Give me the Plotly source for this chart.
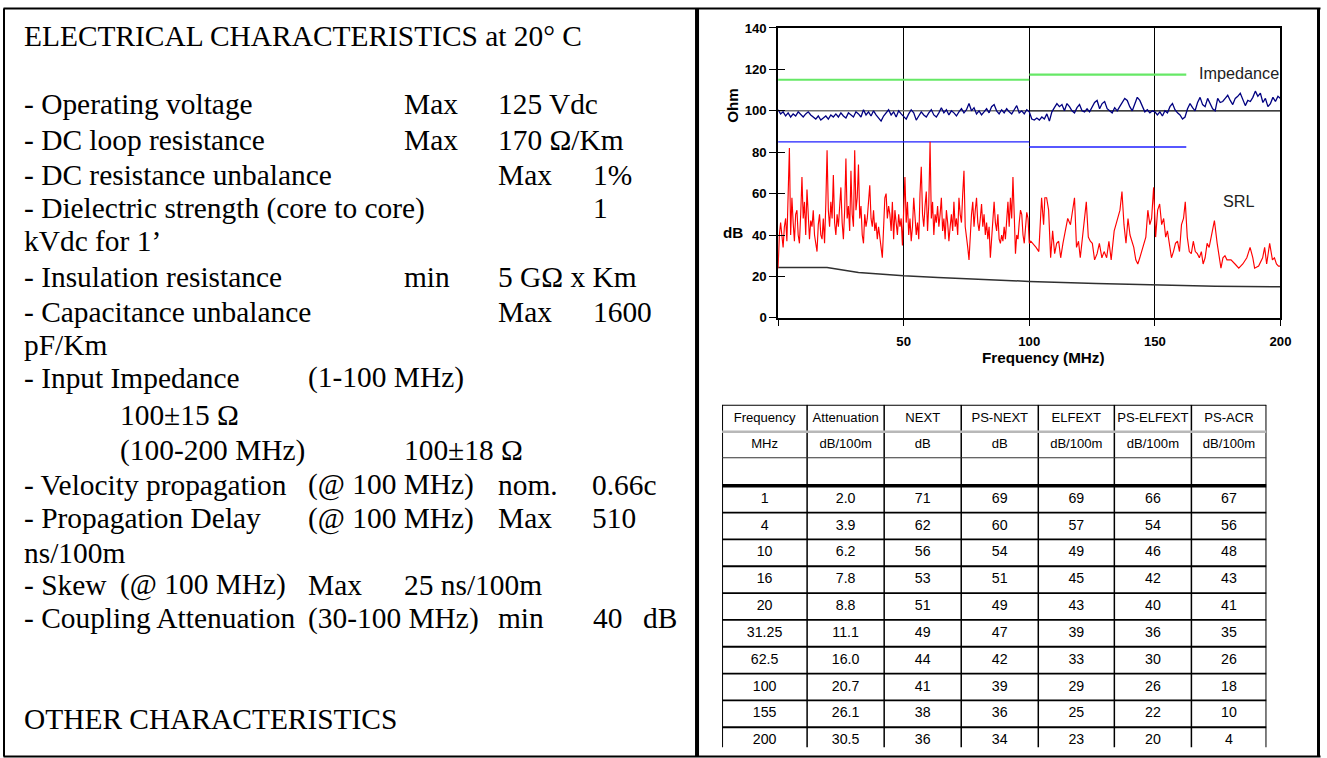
import numpy as np
import plotly.graph_objects as go

# The photographed page comes out slightly scaled/offset; these constants
# map reference-pixel positions onto the figure canvas.
SX, AX = 0.991, 0.5
SY, AY = 0.981, 6.0
W_FIG, H_FIG = 1334, 768
FS = 1 / 0.986  # font compensation

# ---------------- chart data ----------------
# SRL sweep, 0-100 MHz at 0.5 MHz steps
srl_f_low = np.arange(0, 100.5, 0.5)
srl_db_low = [
    24, 40, 46, 38, 34, 44, 48, 37, 60, 82,
    40, 58, 46, 37, 50, 52, 40, 36, 50, 68,
    48, 56, 40, 62, 50, 38, 47, 44, 52, 40,
    36, 32, 45, 50, 40, 38, 48, 36, 55, 81,
    52, 44, 56, 48, 69, 46, 40, 50, 44, 56,
    63, 46, 38, 52, 77, 48, 54, 42, 71, 50,
    44, 81, 52, 58, 74, 48, 54, 40, 36, 50,
    44, 48, 56, 64, 48, 44, 52, 42, 46, 38,
    44, 40, 34, 29, 44, 58, 60, 48, 54, 50,
    42, 56, 38, 52, 46, 40, 50, 44, 48, 35,
    52, 68, 46, 56, 40, 48, 37, 44, 58, 50,
    40, 46, 38, 60, 73, 50, 44, 54, 61, 42,
    55, 85, 48, 56, 40, 50, 46, 54, 44, 50,
    58, 42, 48, 38, 52, 46, 37, 44, 50, 42,
    56, 44, 48, 40, 58, 50, 46, 60, 71, 44,
    40, 34, 28, 40, 50, 56, 44, 52, 58, 46,
    42, 48, 55, 44, 50, 40, 46, 38, 44, 29,
    38, 52, 56, 46, 42, 50, 38, 36, 40, 37,
    44, 38, 50, 56, 44, 58, 48, 68, 50, 31,
    40, 38, 46, 52, 50, 40, 36, 46, 51, 48,
    36,
]
# SRL sweep, 100-200 MHz
srl_f_high = [
    100.6, 101.4, 102.7, 103.8, 104.9, 105.7, 106.2, 106.9, 107.7, 108.5, 109.3, 110.1,
    110.9, 111.7, 112.5, 113.4, 114.4, 115.3, 116.4, 117.2, 118.0, 118.8, 119.6, 120.3,
    121.1, 121.9, 122.7, 123.5, 124.3, 125.1, 126.0, 127.0, 127.9, 128.9, 129.8, 130.8,
    131.7, 132.6, 133.8, 134.5, 135.3, 136.1, 136.9, 137.7, 138.5, 139.3, 140.1, 140.9,
    141.6, 142.4, 143.2, 144.0, 144.8, 145.6, 146.4, 147.2, 148.0, 148.7, 149.5, 150.3,
    151.1, 151.9, 152.7, 153.5, 154.3, 155.0, 155.8, 156.6, 157.4, 158.2, 159.0, 159.8, 160.6,
    161.4, 162.1, 162.9, 163.7, 164.5, 165.3, 166.1, 166.9, 167.7, 168.5, 169.2, 170.0, 170.8,
    171.6, 172.4, 173.7, 174.8, 175.6, 176.3, 177.1, 177.9, 178.7, 180.3,
    181.9, 183.4, 185.0, 186.6, 187.9, 189.0, 189.7, 191.3, 192.9, 193.7, 194.5, 195.7,
    196.8, 197.6, 198.4, 199.2, 200.0,
]
srl_db_high = [
    37, 36, 34, 32, 58, 45, 58, 58, 52, 29, 42, 31,
    36, 37, 29, 36, 42, 48, 45, 53, 58, 34, 37, 29,
    37, 48, 56, 39, 37, 36, 28, 31, 36, 29, 32, 29,
    37, 28, 42, 45, 48, 52, 61, 45, 36, 48, 40, 36,
    34, 28, 26, 29, 32, 36, 39, 52, 45, 48, 63, 39,
    52, 55, 45, 48, 39, 42, 36, 29, 32, 36, 37, 32, 45,
    48, 56, 39, 32, 31, 37, 32, 31, 29, 32, 26, 29, 36,
    34, 39, 47, 36, 28, 24, 29, 30, 28, 28,
    26, 24, 26, 29, 34, 29, 24, 25, 29, 34, 26, 36,
    28, 29, 26, 25, 25,
]
srl_f = list(srl_f_low) + srl_f_high
srl_db = srl_db_low + srl_db_high

# Measured impedance, 1 MHz steps
imp_f = np.arange(0, 201, 1)
imp_ohm = [
    100.5, 98.5, 99.5, 97.5, 99, 97, 98.5, 97.5, 99.5, 98,
    97, 98.5, 99.5, 98, 97, 96, 97.5, 95.5, 96.5, 97.5,
    96, 98, 97, 98.5, 97, 99, 97.5, 96.5, 99, 98,
    97, 99.5, 98.5, 97, 100.5, 98, 99.5, 97.5, 100, 98,
    96.5, 95, 97.5, 99, 100.5, 98, 99.5, 97, 100, 98.5,
    97, 96, 98.5, 100.5, 99, 95.5, 97.5, 99.5, 98, 97,
    99, 100.5, 98, 97, 99, 101.5, 99, 100.5, 98, 100,
    99, 97.5, 99.5, 101, 99, 100.5, 103.5, 100, 101.5, 98.5,
    100, 98, 99.5, 101, 99, 102, 103, 100, 98.5, 100.5,
    99, 101, 99.5, 98.5, 100.5, 102.5, 99, 100, 98.5, 100.5,
    99.5, 96, 95.5, 96.5, 95.5, 97, 96, 98.5, 95, 99.5,
    101.5, 103.5, 102, 103, 100, 103.5, 102, 100, 99, 101.5,
    103, 100, 99.5, 101, 99.5, 102, 104, 105, 101, 103.5,
    104.5, 101, 100, 99, 101.5, 100, 102, 104, 106, 105,
    102, 100, 103, 106.5, 105, 102, 99.5, 100.5, 99, 100,
    99.5, 98, 99.5, 97.5, 100, 99, 102, 103.5, 100.5, 99,
    98, 96, 97, 101, 103.5, 101.5, 100, 104, 106.5, 103,
    102, 106, 103.5, 101, 100, 106, 104, 104.5, 106, 107.5,
    105, 103, 106, 107, 108.5, 105, 102.5, 105, 104.5, 106.5,
    109.5, 107, 108.5, 104, 106, 102, 103.5, 106.5, 104.5, 107,
    106,
]

# SRL limit line
srl_limit_f = [0, 19.5, 32, 50, 63.6, 79, 100, 126.6, 150, 174, 200]
srl_limit_db = [24.3, 24.3, 21.9, 20.3, 19.5, 18.7, 17.6, 16.6, 15.9, 15.3, 15.0]

# Impedance tolerance limits and nominal line
imp_lim_f1 = [0, 100]
imp_lim_f2 = [100, 162.5]
imp_upper_1 = [115, 115]
imp_upper_2 = [117.5, 117.5]
imp_lower_1 = [85, 85]
imp_lower_2 = [82.5, 82.5]
nominal_f1 = [0, 100]
nominal_f2 = [100, 200]
nominal_ohm = [100, 100]

x_tick_vals = [0, 50, 100, 150, 200]
x_tick_text = ["", "50", "100", "150", "200"]
y_tick_vals = [0, 20, 40, 60, 80, 100, 120, 140]

# ---------------- table data ----------------
table_header1 = ["Frequency", "Attenuation", "NEXT", "PS-NEXT", "ELFEXT", "PS-ELFEXT", "PS-ACR"]
table_header2 = ["MHz", "dB/100m", "dB", "dB", "dB/100m", "dB/100m", "dB/100m"]
freq_mhz = ["1", "4", "10", "16", "20", "31.25", "62.5", "100", "155", "200"]
attenuation = ["2.0", "3.9", "6.2", "7.8", "8.8", "11.1", "16.0", "20.7", "26.1", "30.5"]
next_db = [71, 62, 56, 53, 51, 49, 44, 41, 38, 36]
ps_next_db = [69, 60, 54, 51, 49, 47, 42, 39, 36, 34]
elfext = [69, 57, 49, 45, 43, 39, 33, 29, 25, 23]
ps_elfext = [66, 54, 46, 42, 40, 36, 30, 26, 22, 20]
ps_acr = [67, 56, 48, 43, 41, 35, 26, 18, 10, 4]

# ---------------- left panel text ----------------
text_rows = [
    (36.3, [(24.5, "ELECTRICAL CHARACTERISTICS at 20° C")]),
    (104.7, [(24.5, "- Operating voltage"), (404, "Max"), (497.8, "125 Vdc")]),
    (140.5, [(24.5, "- DC loop resistance"), (404, "Max"), (497.8, "170 Ω/Km")]),
    (175.0, [(24.5, "- DC resistance unbalance"), (497.8, "Max"), (593, "1%")]),
    (208.7, [(24.5, "- Dielectric strength (core to core)"), (593, "1")]),
    (241.7, [(24.5, "kVdc for 1’")]),
    (277.0, [(24.5, "- Insulation resistance"), (404, "min"), (497.8, "5 GΩ x Km")]),
    (312.0, [(24.5, "- Capacitance unbalance"), (497.8, "Max"), (593, "1600")]),
    (345.7, [(24.5, "pF/Km")]),
    (378.3, [(24.5, "- Input Impedance"), (308, "(1-100 MHz)")]),
    (415.3, [(120.5, "100±15 Ω")]),
    (450.5, [(120.5, "(100-200 MHz)"), (404, "100±18 Ω")]),
    (485.3, [(24.5, "- Velocity propagation"), (308, "(@ 100 MHz)"), (497.8, "nom."), (592, "0.66c")]),
    (518.7, [(24.5, "- Propagation Delay"), (308, "(@ 100 MHz)"), (497.8, "Max"), (592, "510")]),
    (553.0, [(24.5, "ns/100m")]),
    (585.3, [(24.5, "- Skew"), (120.5, "(@ 100 MHz)"), (308, "Max"), (404, "25 ns/100m")]),
    (618.7, [(24.5, "- Coupling Attenuation"), (308, "(30-100 MHz)"), (497.8, "min"), (593, "40"), (643, "dB")]),
    (719.5, [(24.5, "OTHER CHARACTERISTICS")]),
]


def px(x):
    return min(max(((x - AX) / SX) / W_FIG, 0.0), 1.0)


def py(y):
    return min(max(1 - ((y - AY) / SY) / H_FIG, 0.0), 1.0)


fig = go.Figure()

# tolerance lines
for fx, fy in [(imp_lim_f1, imp_upper_1), (imp_lim_f2, imp_upper_2)]:
    fig.add_trace(go.Scatter(x=fx, y=fy, mode="lines",
                             line=dict(color="#66e866", width=2.2), hoverinfo="skip"))
for fx, fy in [(imp_lim_f1, imp_lower_1), (imp_lim_f2, imp_lower_2)]:
    fig.add_trace(go.Scatter(x=fx, y=fy, mode="lines",
                             line=dict(color="#1f1fff", width=1.4), hoverinfo="skip"))
# nominal 100 ohm line
fig.add_trace(go.Scatter(x=nominal_f1, y=nominal_ohm, mode="lines",
                         line=dict(color="#707070", width=1.5), hoverinfo="skip"))
fig.add_trace(go.Scatter(x=nominal_f2, y=nominal_ohm, mode="lines",
                         line=dict(color="#000000", width=1.3), hoverinfo="skip"))
# SRL limit
fig.add_trace(go.Scatter(x=srl_limit_f, y=srl_limit_db, mode="lines",
                         line=dict(color="#303030", width=1.5), hoverinfo="skip"))
# SRL measured
fig.add_trace(go.Scatter(x=srl_f, y=srl_db, mode="lines",
                         line=dict(color="#ff0000", width=1.15), name="SRL"))
# impedance measured
fig.add_trace(go.Scatter(x=imp_f, y=imp_ohm, mode="lines",
                         line=dict(color="#000080", width=1.3), name="Impedance"))
# dummy trace for the inner tick axis
fig.add_trace(go.Scatter(x=[None], y=[None], xaxis="x", yaxis="y4", hoverinfo="skip"))

# ---------------- table ----------------
col_edges = [0, 85, 162, 239, 316, 392, 469, 544]
row_edges = [0, 27, 53, 81] + [81 + 26.85 * k for k in range(1, 11)]
col_c = [(col_edges[i] + col_edges[i + 1]) / 2 for i in range(7)]
row_c = [(row_edges[i] + row_edges[i + 1]) / 2 for i in range(len(row_edges) - 1)]

columns = [freq_mhz, attenuation, next_db, ps_next_db, elfext, ps_elfext, ps_acr]
hx, hy, ht = [], [], []
bx, by, bt = [], [], []
for ci in range(7):
    hx += [col_c[ci], col_c[ci]]
    hy += [row_c[0], row_c[1]]
    ht += [table_header1[ci], table_header2[ci]]
    for ri, v in enumerate(columns[ci]):
        bx.append(col_c[ci])
        by.append(row_c[3 + ri])
        bt.append(str(v))

table_family = "Liberation Sans Narrow, Arial Narrow, Liberation Sans, Arial"
fig.add_trace(go.Scatter(
    x=hx, y=hy, text=ht, mode="text", xaxis="x3", yaxis="y3",
    textfont=dict(family=table_family, size=12.9 * FS, color="black"),
    textposition="middle center", cliponaxis=False, hoverinfo="skip"))
fig.add_trace(go.Scatter(
    x=bx, y=by, text=bt, mode="text", xaxis="x3", yaxis="y3",
    textfont=dict(family=table_family, size=14 * FS, color="black"),
    textposition="middle center", cliponaxis=False, hoverinfo="skip"))

TABLE_TOP, TABLE_BOTTOM = 404, 756
shapes = []
table_bottom = 342.7
# verticals
for i, xe in enumerate(col_edges):
    w = 2 if i in (0, len(col_edges) - 1) else 1.5
    shapes.append(dict(type="line", xref="x3", yref="y3", x0=xe, x1=xe, y0=0, y1=table_bottom,
                       line=dict(color="black", width=w)))
# horizontals
hstyles = {0: ("black", 2), 1: ("#b8b8b8", 2.5), 2: ("#333333", 1), 3: ("black", 3.5)}
for i, ye in enumerate(row_edges[:-1]):
    c, w = hstyles.get(i, ("black", 1.8))
    shapes.append(dict(type="line", xref="x3", yref="y3", x0=0, x1=544, y0=ye, y1=ye,
                       line=dict(color=c, width=w)))

# page frame
frame = [
    (4, 7.5, 1320, 7.5, 2),
    (4, 756, 1320, 756, 2),
    (4.5, 7.5, 4.5, 756, 2),
    (697, 7.5, 697, 756, 4),
    (1318, 7.5, 1318, 756, 3),
]
for x0, y0, x1, y1, w in frame:
    shapes.append(dict(type="line", xref="paper", yref="paper", x0=px(x0), x1=px(x1),
                       y0=py(y0), y1=py(y1), line=dict(color="black", width=w), layer="above"))

# ---------------- annotations ----------------
ann = []
serif = dict(family="Liberation Serif, Times New Roman, serif", size=29 * FS, color="black")
for yc, parts in text_rows:
    for xl, t in parts:
        ann.append(dict(x=px(xl - 1.8), y=py(yc - 1.2), xref="paper", yref="paper", text=t,
                        showarrow=False, xanchor="left", yanchor="middle", font=serif))

bold = dict(family="Liberation Sans, Arial, sans-serif", size=15 * FS, color="black", weight="bold")
lab = dict(family="Liberation Sans, Arial, sans-serif", size=16 * FS, color="#222")
ann += [
    dict(x=px(732.5), y=py(104.3), text="Ohm", textangle=-90, font=bold),
    dict(x=px(733), y=py(231.7), text="dB", font=bold),
    dict(x=px(1043), y=py(357), text="Frequency (MHz)", font=bold),
    dict(x=px(1239), y=py(72), text="Impedance", font=lab),
    dict(x=px(1239), y=py(200), text="SRL", font=lab),
]
for a in ann[-5:]:
    a.update(xref="paper", yref="paper", showarrow=False, xanchor="center", yanchor="middle")

tickfont = dict(family="Liberation Sans, Arial, sans-serif", size=13 * FS, color="black", weight="bold")

fig.update_layout(
    width=W_FIG, height=H_FIG,
    margin=dict(l=0, r=0, t=0, b=0),
    paper_bgcolor="white", plot_bgcolor="white",
    showlegend=False,
    xaxis=dict(domain=[px(778), px(1280)], range=[0, 200], anchor="y",
               showline=True, mirror=True, linecolor="black", linewidth=1.5,
               ticks="outside", ticklen=6, tickcolor="black", tickwidth=1.3,
               tickvals=x_tick_vals, ticktext=x_tick_text, tickfont=tickfont,
               ticklabelstandoff=5,
               showgrid=True, gridcolor="black", gridwidth=1.3, zeroline=False),
    yaxis=dict(domain=[py(317), py(27)], range=[0, 140], anchor="x",
               showline=True, mirror=True, linecolor="black", linewidth=1.5,
               ticks="outside", ticklen=7, tickcolor="black", tickwidth=1.3,
               tickvals=y_tick_vals, tickfont=tickfont,
               showgrid=False, zeroline=False),
    yaxis4=dict(overlaying="y", anchor="x", side="left", range=[0, 140],
                tickvals=y_tick_vals, ticks="inside", ticklen=7, tickcolor="black", tickwidth=1.3,
                showticklabels=False, showline=False, showgrid=False, zeroline=False),
    xaxis3=dict(domain=[px(722), px(1266)], range=[0, 544], anchor="y3", visible=False),
    yaxis3=dict(domain=[py(TABLE_BOTTOM), py(TABLE_TOP)], range=[TABLE_BOTTOM - TABLE_TOP, 0],
                anchor="x3", visible=False),
    shapes=shapes,
    annotations=ann,
)

post = "document.body.style.margin='0';document.body.style.padding='0';"

fig.write_html("out.html", config={"displayModeBar": False}, post_script=post)
